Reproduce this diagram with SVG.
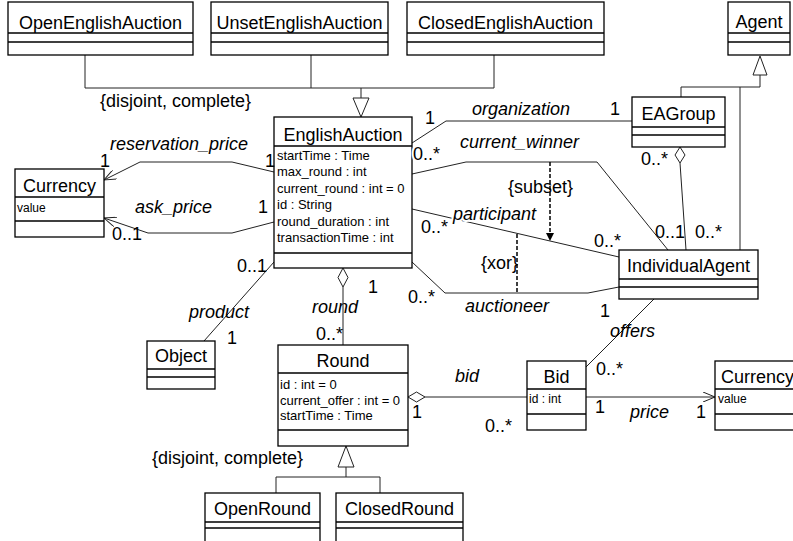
<svg xmlns="http://www.w3.org/2000/svg" width="793" height="541" viewBox="0 0 793 541">
<style>
.box{fill:#fff;stroke:#000;stroke-width:1.3}
.div{stroke:#000;stroke-width:1.3}
.cn{font-family:"Liberation Sans",Arial,sans-serif;font-size:18px;fill:#000;text-anchor:middle}
.at{font-family:"Liberation Sans",Arial,sans-serif;font-size:13px;fill:#000}
.sm{font-family:"Liberation Sans",Arial,sans-serif;font-size:12px;fill:#000}
.lb{font-family:"Liberation Sans",Arial,sans-serif;font-size:18px;font-style:italic;fill:#000}
.mu{font-family:"Liberation Sans",Arial,sans-serif;font-size:18px;fill:#000}
.ln{fill:none;stroke:#222;stroke-width:1}
.ds{fill:none;stroke:#000;stroke-width:1.5;stroke-dasharray:4,2}
.hollow{fill:#fff;stroke:#222;stroke-width:1}
.halo{paint-order:stroke;stroke:#fff;stroke-width:4px}
</style>
<defs>
<marker id="open" viewBox="0 0 12 10" refX="12" refY="5" markerWidth="12" markerHeight="10" markerUnits="userSpaceOnUse" orient="auto">
<path d="M0,0 L12,5 L0,10" fill="none" stroke="#222" stroke-width="1"/>
</marker>
</defs>
<rect width="793" height="541" fill="#fff"/>

<g id="connectors">
<path class="ln" d="M85,55 V88 M311,55 V88 M494,55 V88 M85,88 H494 M361,88 V98"/>
<polygon class="hollow" points="353,98 369,98 361,117"/>
<polygon class="hollow" points="760,56 753,75 767,75"/>
<path class="ln" d="M760,75 V87 M681,87 H760 M681,87 V97 M740,87 V250"/>
<polyline class="ln" points="412,143 446,121 632,121"/>
<polyline class="ln" points="412,174 466,162 597,162 668,250"/>
<line class="ln" x1="412" y1="209" x2="619" y2="257"/>
<polyline class="ln" points="412,262 445,293 588,293 619,287"/>
<line class="ds" x1="550" y1="162" x2="550" y2="233"/>
<polygon points="546,233 554,233 550,241" fill="#000"/>
<line class="ds" x1="517" y1="234" x2="517" y2="293"/>
<polygon class="hollow" points="680,147 685,155 680,163 675,155"/>
<line class="ln" x1="680" y1="163" x2="686" y2="250"/>
<polyline class="ln" points="274,172 232,162 140,162 104,180" marker-end="url(#open)"/>
<polyline class="ln" points="274,222 232,233 148,233 104,218" marker-end="url(#open)"/>
<line class="ln" x1="274" y1="262" x2="204" y2="341"/>
<polygon class="hollow" points="343,268 348,277.5 343,287 338,277.5"/>
<line class="ln" x1="343" y1="287" x2="343" y2="345"/>
<polygon class="hollow" points="408,397 416.5,392 425,397 416.5,402"/>
<line class="ln" x1="425" y1="397" x2="527" y2="397"/>
<line class="ln" x1="654" y1="299" x2="586" y2="367"/>
<line class="ln" x1="586" y1="397" x2="715" y2="397" marker-end="url(#open)"/>
<polygon class="hollow" points="346,446 338,467 354,467"/>
<path class="ln" d="M346,467 V477 M276,477 H380 M276,477 V493 M380,477 V493"/>
</g>

<g id="OpenEnglishAuction">
<rect class="box" x="8" y="2" width="185" height="53"/>
<path class="div" d="M8,33 H193 M8,42 H193"/>
<text class="cn" x="100.5" y="29">OpenEnglishAuction</text>
</g>
<g id="UnsetEnglishAuction">
<rect class="box" x="211" y="2" width="177" height="53"/>
<path class="div" d="M211,33 H388 M211,42 H388"/>
<text class="cn" x="299.5" y="29">UnsetEnglishAuction</text>
</g>
<g id="ClosedEnglishAuction">
<rect class="box" x="407" y="2" width="197" height="53"/>
<path class="div" d="M407,33 H604 M407,42 H604"/>
<text class="cn" x="505.5" y="29">ClosedEnglishAuction</text>
</g>
<g id="Agent">
<rect class="box" x="728" y="2" width="62" height="53"/>
<path class="div" d="M728,33 H790 M728,42 H790"/>
<text class="cn" x="759" y="28">Agent</text>
</g>
<g id="EAGroup">
<rect class="box" x="632" y="97" width="93" height="50"/>
<path class="div" d="M632,127 H725 M632,135 H725"/>
<text class="cn" x="678.5" y="120">EAGroup</text>
</g>
<g id="EnglishAuction">
<rect class="box" x="274" y="117" width="138" height="151"/>
<path class="div" d="M274,146 H412 M274,253 H412"/>
<text class="cn" x="343" y="141">EnglishAuction</text>
<text class="at" x="277" y="159.5">startTime : Time</text>
<text class="at" x="277" y="176">max_round : int</text>
<text class="at" x="277" y="192.5">current_round : int = 0</text>
<text class="at" x="277" y="209">id : String</text>
<text class="at" x="277" y="225.5">round_duration : int</text>
<text class="at" x="277" y="241.5">transactionTime : int</text>
</g>
<g id="Currency1">
<rect class="box" x="15" y="169" width="89" height="68"/>
<path class="div" d="M15,197 H104 M15,221 H104"/>
<text class="cn" x="59.5" y="192">Currency</text>
<text class="sm" x="17" y="212">value</text>
</g>
<g id="IndividualAgent">
<rect class="box" x="619" y="250" width="139" height="49"/>
<path class="div" d="M619,279 H758 M619,287 H758"/>
<text class="cn" x="688.5" y="272">IndividualAgent</text>
</g>
<g id="Object">
<rect class="box" x="147" y="341" width="68" height="48"/>
<path class="div" d="M147,369 H215 M147,377 H215"/>
<text class="cn" x="181" y="362">Object</text>
</g>
<g id="Round">
<rect class="box" x="278" y="345" width="130" height="101"/>
<path class="div" d="M278,373 H408 M278,430 H408"/>
<text class="cn" x="343" y="367">Round</text>
<text class="at" x="280" y="389">id : int = 0</text>
<text class="at" x="280" y="404.5">current_offer : int = 0</text>
<text class="at" x="280" y="420">startTime : Time</text>
</g>
<g id="Bid">
<rect class="box" x="527" y="361" width="59" height="69"/>
<path class="div" d="M527,389 H586 M527,414 H586"/>
<text class="cn" x="556.5" y="383">Bid</text>
<text class="sm" x="529" y="403">id : int</text>
</g>
<g id="Currency2">
<rect class="box" x="715" y="361" width="95" height="69"/>
<path class="div" d="M715,389 H810 M715,414 H810"/>
<text class="mu" x="721" y="383" font-size="17">Currency</text>
<text class="sm" x="718" y="403">value</text>
</g>
<g id="OpenRound">
<rect class="box" x="205" y="493" width="115" height="50"/>
<path class="div" d="M205,522 H320 M205,528 H320"/>
<text class="cn" x="262.5" y="515">OpenRound</text>
</g>
<g id="ClosedRound">
<rect class="box" x="336" y="493" width="127" height="50"/>
<path class="div" d="M336,522 H463 M336,528 H463"/>
<text class="cn" x="399.5" y="515">ClosedRound</text>
</g>

<g id="labels">
<text class="mu" x="100" y="107">{disjoint, complete}</text>
<text class="mu" x="152" y="464">{disjoint, complete}</text>
<text class="lb" x="472" y="115">organization</text>
<text class="mu" x="425" y="124">1</text>
<text class="mu" x="610" y="115">1</text>
<text class="mu halo" x="413" y="160">0..*</text>
<text class="lb" x="460" y="148">current_winner</text>
<text class="mu" x="508" y="193">{subset}</text>
<text class="lb halo" x="453" y="220">participant</text>
<text class="mu" x="421" y="233">0..*</text>
<text class="mu" x="594" y="247">0..*</text>
<text class="mu" x="655" y="238">0..1</text>
<text class="mu" x="695" y="238">0..*</text>
<text class="mu" x="641" y="165">0..*</text>
<text class="mu" x="481" y="269">{xor}</text>
<text class="lb" x="465" y="312">auctioneer</text>
<text class="mu" x="408" y="303">0..*</text>
<text class="mu" x="600" y="317">1</text>
<text class="lb" x="610" y="337">offers</text>
<text class="mu" x="596" y="375">0..*</text>
<text class="lb" x="110" y="150">reservation_price</text>
<text class="mu" x="100" y="167">1</text>
<text class="mu" x="265" y="167">1</text>
<text class="lb" x="135" y="213">ask_price</text>
<text class="mu" x="258" y="213">1</text>
<text class="mu" x="112" y="240">0..1</text>
<text class="mu" x="237" y="272">0..1</text>
<text class="lb" x="189" y="318">product</text>
<text class="mu" x="227" y="344">1</text>
<text class="lb" x="312" y="313">round</text>
<text class="mu" x="368" y="293">1</text>
<text class="mu" x="316" y="340">0..*</text>
<text class="lb" x="455" y="382">bid</text>
<text class="mu" x="412" y="418">1</text>
<text class="mu" x="485" y="432">0..*</text>
<text class="mu" x="595" y="413">1</text>
<text class="lb" x="630" y="418">price</text>
<text class="mu" x="696" y="418">1</text>
</g>
</svg>
